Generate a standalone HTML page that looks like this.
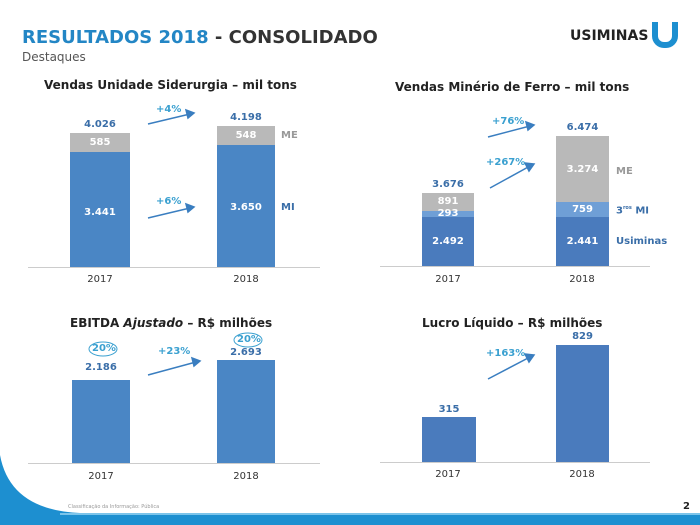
<!DOCTYPE html><html><head><style>
body{margin:0;width:700px;height:525px;overflow:hidden;background:#fff;position:relative;font-family:"DejaVu Sans",sans-serif}
div{position:absolute}
.t{font-weight:bold;font-size:12px;color:#222;white-space:nowrap}
.v{font-weight:bold;font-size:10px;color:#fff;text-align:center}
.l{font-weight:bold;font-size:10px;color:#3a6ea8;text-align:center}
.y{font-size:10px;color:#333;text-align:center;width:60px}
.ax{height:1px;background:#ccc}
.b1{background:#4a86c5}.g{background:#b9b9b9}.lb{background:#6f9fd6}.b2{background:#4a7bbd}
.p{font-weight:bold;font-size:10px;color:#3aa0d0}
</style></head><body>
<div style="left:22px;top:27px;font-size:18px;font-weight:bold;color:#2386c5;white-space:nowrap">RESULTADOS 2018 <span style="color:#333">- CONSOLIDADO</span></div>
<div style="left:22px;top:50px;font-size:12px;color:#555">Destaques</div>
<div style="left:570px;top:28px;font-size:14px;font-weight:bold;color:#222">USIMINAS</div>
<div style="left:652px;top:22px;width:14px;height:20px;border:6px solid #1d8fd0;border-top:none;border-radius:0 0 12px 12px"></div>
<div class="t" style="left:44px;top:78px">Vendas Unidade Siderurgia – mil tons</div>
<div class="t" style="left:395px;top:80px">Vendas Minério de Ferro – mil tons</div>
<div class="t" style="left:70px;top:316px">EBITDA <i>Ajustado</i> – R$ milhões</div>
<div class="t" style="left:422px;top:316px">Lucro Líquido – R$ milhões</div>
<!-- chart1 -->
<div class="ax" style="left:28px;top:267px;width:292px"></div>
<div class="g" style="left:70px;top:133px;width:60px;height:19px"></div><div class="b1" style="left:70px;top:152px;width:60px;height:115px"></div>
<div class="g" style="left:217px;top:126px;width:58px;height:19px"></div><div class="b1" style="left:217px;top:145px;width:58px;height:122px"></div>
<div class="l" style="left:70px;top:119px;width:60px">4.026</div><div class="v" style="left:70px;top:137px;width:60px">585</div><div class="v" style="left:70px;top:207px;width:60px">3.441</div>
<div class="l" style="left:217px;top:112px;width:58px">4.198</div><div class="v" style="left:217px;top:130px;width:58px">548</div><div class="v" style="left:217px;top:202px;width:58px">3.650</div>
<div class="l" style="left:281px;top:130px;color:#999">ME</div><div class="l" style="left:281px;top:202px">MI</div>
<div class="p" style="left:156px;top:104px">+4%</div><div class="p" style="left:156px;top:196px">+6%</div>
<svg style="position:absolute;left:0;top:0" width="700" height="525"><g stroke="#3a7ec0" stroke-width="1.5" fill="#3a7ec0">
<line x1="148" y1="124" x2="190" y2="114"/><polygon points="194,113 186,110 188,118"/>
<line x1="148" y1="218" x2="190" y2="208"/><polygon points="194,207 186,204 188,212"/>
<line x1="488" y1="137" x2="530" y2="126"/><polygon points="534,125 526,122 528,130"/>
<line x1="490" y1="188" x2="530" y2="166"/><polygon points="534,164 525,163 529,171"/>
<line x1="148" y1="375" x2="196" y2="362"/><polygon points="200,361 192,358 194,366"/>
<line x1="488" y1="379" x2="530" y2="357"/><polygon points="534,355 525,354 529,362"/></g>
<ellipse cx="103" cy="349" rx="14" ry="7" fill="none" stroke="#3aa0d0"/><ellipse cx="248" cy="340" rx="14" ry="7" fill="none" stroke="#3aa0d0"/>
<path d="M0 455 Q10 510 80 513 L700 513 L700 525 L0 525Z" fill="#1d8fd0"/><rect x="60" y="513" width="640" height="2" fill="#7cc4ea"/></svg>
<div class="y" style="left:70px;top:274px">2017</div><div class="y" style="left:216px;top:274px">2018</div>
<!-- chart2 -->
<div class="ax" style="left:380px;top:266px;width:270px"></div>
<div class="g" style="left:422px;top:193px;width:52px;height:18px"></div><div class="lb" style="left:422px;top:211px;width:52px;height:6px"></div><div class="b2" style="left:422px;top:217px;width:52px;height:49px"></div>
<div class="g" style="left:556px;top:136px;width:53px;height:66px"></div><div class="lb" style="left:556px;top:202px;width:53px;height:15px"></div><div class="b2" style="left:556px;top:217px;width:53px;height:49px"></div>
<div class="l" style="left:422px;top:179px;width:52px">3.676</div><div class="v" style="left:422px;top:196px;width:52px">891</div><div class="v" style="left:422px;top:208px;width:52px">293</div><div class="v" style="left:422px;top:236px;width:52px">2.492</div>
<div class="l" style="left:556px;top:122px;width:53px">6.474</div><div class="v" style="left:556px;top:164px;width:53px">3.274</div><div class="v" style="left:556px;top:204px;width:53px">759</div><div class="v" style="left:556px;top:236px;width:53px">2.441</div>
<div class="l" style="left:616px;top:166px;color:#999">ME</div><div class="l" style="left:616px;top:205px">3<sup style="font-size:5px">ros</sup> MI</div><div class="l" style="left:616px;top:236px">Usiminas</div>
<div class="p" style="left:492px;top:116px">+76%</div><div class="p" style="left:486px;top:157px">+267%</div>
<div class="y" style="left:418px;top:274px">2017</div><div class="y" style="left:552px;top:274px">2018</div>
<!-- chart3 -->
<div class="ax" style="left:28px;top:463px;width:292px"></div>
<div class="b1" style="left:72px;top:380px;width:58px;height:83px"></div><div class="b1" style="left:217px;top:360px;width:58px;height:103px"></div>
<div class="l" style="left:72px;top:362px;width:58px">2.186</div><div class="l" style="left:217px;top:347px;width:58px">2.693</div>
<div class="p" style="left:92px;top:343px">20%</div><div class="p" style="left:237px;top:334px">20%</div><div class="p" style="left:158px;top:346px">+23%</div>
<div class="y" style="left:71px;top:471px">2017</div><div class="y" style="left:216px;top:471px">2018</div>
<!-- chart4 -->
<div class="ax" style="left:380px;top:462px;width:270px"></div>
<div class="b2" style="left:422px;top:417px;width:54px;height:45px"></div><div class="b2" style="left:556px;top:345px;width:53px;height:117px"></div>
<div class="l" style="left:422px;top:404px;width:54px">315</div><div class="l" style="left:556px;top:331px;width:53px">829</div>
<div class="p" style="left:486px;top:348px">+163%</div>
<div class="y" style="left:418px;top:469px">2017</div><div class="y" style="left:552px;top:469px">2018</div>
<div style="left:68px;top:504px;font-size:5px;color:#999">Classificação da Informação: Pública</div>
<div style="left:683px;top:501px;font-size:10px;font-weight:bold;color:#222">2</div>
</body></html>
